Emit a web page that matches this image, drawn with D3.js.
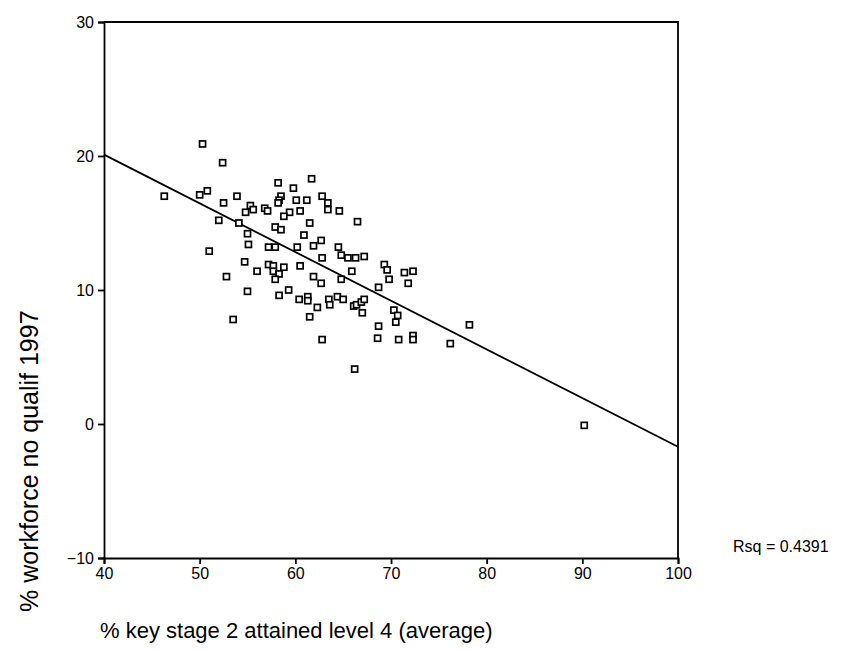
<!DOCTYPE html>
<html>
<head>
<meta charset="utf-8">
<script src="https://cdn.jsdelivr.net/npm/d3@7"></script>
<style>
  body { margin: 0; background: #fff; }
  svg { display: block; }
  text { font-family: "Liberation Sans", Arial, sans-serif; fill: #000; }
</style>
</head>
<body>
<svg id="chart" width="855" height="652"></svg>
<script>
// ---- data ----
const ks2Level4 = [50.3,52.4,46.3,50.0,50.8,52.5,53.9,58.2,59.8,55.3,55.6,54.8,56.8,57.1,58.5,58.3,58.2,60.1,61.2,59.4,60.5,58.8,52.0,54.1,57.9,58.5,55.0,60.9,55.1,57.2,57.9,60.2,61.7,61.5,62.8,63.4,63.4,64.6,66.5,62.7,61.9,64.5,51.0,54.7,56.0,57.2,57.7,57.7,58.8,58.3,57.9,60.5,52.8,55.0,58.3,59.3,60.4,61.3,61.3,53.5,61.5,64.8,65.5,66.3,67.2,62.8,61.9,62.7,64.8,65.9,69.3,69.6,71.4,72.3,69.8,71.8,68.7,62.3,63.5,63.6,64.4,65.0,66.1,66.4,66.9,67.2,67.0,70.3,70.7,70.5,68.7,68.6,70.8,72.3,72.3,76.2,62.8,78.2,66.2,90.2];
const noQualif = [20.9,19.5,17.0,17.1,17.4,16.5,17.0,18.0,17.6,16.3,16.0,15.8,16.1,15.9,17.0,16.7,16.5,16.7,16.7,15.8,15.9,15.5,15.2,15.0,14.7,14.5,14.2,14.1,13.4,13.2,13.2,13.2,18.3,15.0,17.0,16.5,16.0,15.9,15.1,13.7,13.3,13.2,12.9,12.1,11.4,11.9,11.8,11.4,11.7,11.2,10.8,11.8,11.0,9.9,9.6,10.0,9.3,9.5,9.2,7.8,8.0,12.6,12.4,12.4,12.5,12.4,11.0,10.5,10.8,11.4,11.9,11.5,11.3,11.4,10.8,10.5,10.2,8.7,9.3,8.9,9.5,9.3,8.8,8.9,9.1,9.3,8.3,8.5,8.1,7.6,7.3,6.4,6.3,6.6,6.3,6.0,6.3,7.4,4.1,-0.1];
const fitX = [40, 100];
const fitY = [20.1, -1.7];
const xTicks = [40, 50, 60, 70, 80, 90, 100];
const yTicks = [-10, 0, 10, 20, 30];
const xTitle = "% key stage 2 attained level 4 (average)";
const yTitle = "% workforce no qualif 1997";
const rsqLabel = "Rsq = 0.4391";

// ---- drawing ----
const svg = d3.select("#chart");
const L = 104, R = 678, T = 22, B = 558;
const x = d3.scaleLinear().domain([40, 100]).range([L, R]);
const y = d3.scaleLinear().domain([-10, 30]).range([B, T]);

// frame (top and right)
svg.append("path")
  .attr("d", `M${L},${T}H${R}V${B}`)
  .attr("fill", "none").attr("stroke", "#000").attr("stroke-width", 1.8);

const xAxis = svg.append("g").attr("transform", `translate(0,${B})`)
  .call(d3.axisBottom(x).tickValues(xTicks).tickSize(6).tickPadding(4).tickFormat(d3.format("d")));
const yAxis = svg.append("g").attr("transform", `translate(${L},0)`)
  .call(d3.axisLeft(y).tickValues(yTicks).tickSize(6).tickPadding(4).tickFormat(d3.format("d")));
[xAxis, yAxis].forEach(a => {
  a.select(".domain").attr("stroke", "#000").attr("stroke-width", 1.8);
  a.selectAll(".tick line").attr("stroke", "#000").attr("stroke-width", 1.8);
  a.selectAll(".tick text").style("font-size", "16px").style("font-family", "Liberation Sans, Arial, sans-serif").attr("fill", "#000");
});
yAxis.selectAll(".tick text").attr("dy", "0.35em");

// regression line
const line = d3.line().x(d => x(d[0])).y(d => y(d[1]));
svg.append("path")
  .datum(fitX.map((v, i) => [v, fitY[i]]))
  .attr("d", line)
  .attr("fill", "none").attr("stroke", "#000").attr("stroke-width", 1.8);

// points
const pts = ks2Level4.map((v, i) => [v, noQualif[i]]);
svg.append("g").selectAll("rect").data(pts).enter().append("rect")
  .attr("x", d => x(d[0]) - 3)
  .attr("y", d => y(d[1]) - 3)
  .attr("width", 6).attr("height", 6)
  .attr("fill", "#fff").attr("stroke", "#000").attr("stroke-width", 1.7);

// titles
svg.append("text")
  .attr("x", 100).attr("y", 638)
  .style("font-size", "22px")
  .text(xTitle);
svg.append("text")
  .attr("transform", "translate(38,612) rotate(-90)")
  .style("font-size", "25px")
  .text(yTitle);
svg.append("text")
  .attr("x", 733).attr("y", 552)
  .style("font-size", "16px")
  .text(rsqLabel);
</script>
</body>
</html>
